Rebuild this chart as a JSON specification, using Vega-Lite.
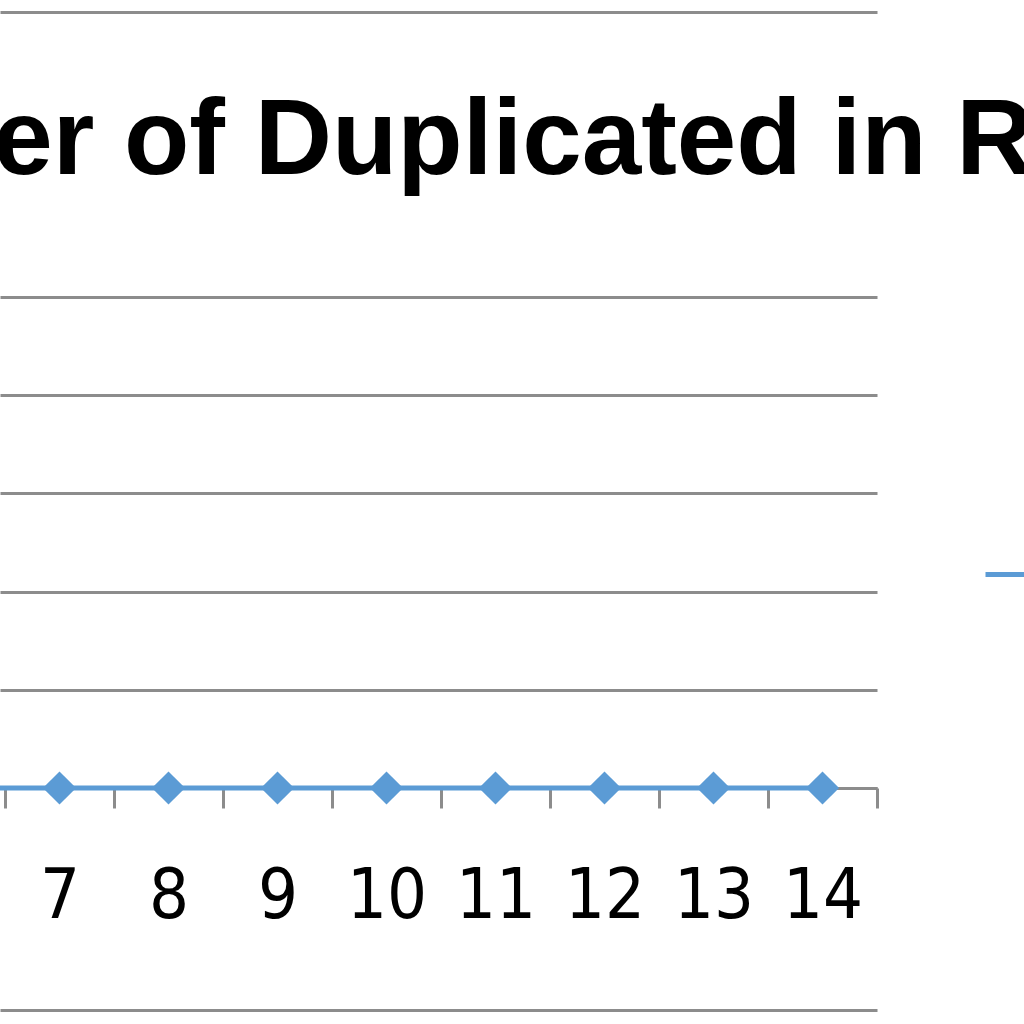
{
  "$schema": "https://vega.github.io/schema/vega-lite/v6.json",
  "width": 877,
  "height": 491,
  "autosize": "none",
  "padding": {"left": 0, "top": 297, "right": 147, "bottom": 236},
  "background": "white",
  "title": {
    "text": "Number of Duplicated in Round",
    "anchor": "start",
    "frame": "group",
    "dx": -310,
    "baseline": "alphabetic",
    "offset": -269,
    "font": "Liberation Sans",
    "fontSize": 107,
    "fontWeight": "bold",
    "color": "#000000"
  },
  "config": {"view": {"stroke": null}},
  "data": {
    "values": [
      {"Run": 1, "Duplicated": 0},
      {"Run": 2, "Duplicated": 0},
      {"Run": 3, "Duplicated": 0},
      {"Run": 4, "Duplicated": 0},
      {"Run": 5, "Duplicated": 0},
      {"Run": 6, "Duplicated": 0},
      {"Run": 7, "Duplicated": 0},
      {"Run": 8, "Duplicated": 0},
      {"Run": 9, "Duplicated": 0},
      {"Run": 10, "Duplicated": 0},
      {"Run": 11, "Duplicated": 0},
      {"Run": 12, "Duplicated": 0},
      {"Run": 13, "Duplicated": 0},
      {"Run": 14, "Duplicated": 0}
    ]
  },
  "resolve": {"axis": {"x": "independent"}},
  "layer": [
    {
      "mark": {"type": "line", "strokeWidth": 5},
      "encoding": {
        "x": {
          "field": "Run",
          "type": "quantitative",
          "scale": {"domain": [6.454, 14.5], "nice": false, "zero": false},
          "axis": {
            "orient": "bottom",
            "title": null,
            "values": [6.5, 7, 7.5, 8, 8.5, 9, 9.5, 10, 10.5, 11, 11.5, 12, 12.5, 13, 13.5, 14, 14.5],
            "labelExpr": "datum.value % 1 == 0 ? format(datum.value, 'd') : ''",
            "labelFont": "'DejaVu Sans Condensed', 'Liberation Sans'",
            "labelFontSize": 70,
            "labelColor": "#000000",
            "labelPadding": 54,
            "labelFlush": false,
            "labelOverlap": false,
            "labelBound": false,
            "tickSize": 20,
            "tickWidth": 3,
            "tickColor": "#8c8c8c",
            "tickOpacity": {"condition": {"test": "datum.value % 1 == 0", "value": 0}, "value": 1},
            "domainColor": "#8c8c8c",
            "domainWidth": 3,
            "grid": false
          }
        },
        "y": {
          "field": "Duplicated",
          "type": "quantitative",
          "scale": {"domain": [0, 1], "nice": false},
          "axis": {
            "title": null,
            "values": [0, 0.2, 0.4, 0.6, 0.8, 1],
            "labels": false,
            "ticks": false,
            "domain": false,
            "grid": true,
            "gridColor": "#8c8c8c",
            "gridWidth": 3
          }
        },
        "stroke": {
          "datum": "Duplicated",
          "scale": {"range": ["#5B9BD5"]},
          "legend": {
            "title": null,
            "orient": "none",
            "legendX": 983,
            "legendY": 235,
            "padding": 0,
            "symbolType": "stroke",
            "symbolSize": 6400,
            "symbolStrokeWidth": 5,
            "labelFontSize": 20,
            "labelColor": "#000000"
          }
        }
      }
    },
    {
      "mark": {"type": "point", "shape": "diamond", "filled": true, "size": 1100, "color": "#5B9BD5", "opacity": 1},
      "encoding": {
        "x": {"field": "Run", "type": "quantitative", "axis": null},
        "y": {"field": "Duplicated", "type": "quantitative"}
      }
    },
    {
      "mark": {"type": "point", "opacity": 0, "clip": true},
      "encoding": {
        "x": {
          "field": "Run",
          "type": "quantitative",
          "axis": {"orient": "top", "offset": 285, "title": null, "labels": false, "ticks": false, "grid": false, "domainColor": "#8c8c8c", "domainWidth": 3}
        },
        "y": {"field": "Duplicated", "type": "quantitative"}
      }
    },
    {
      "mark": {"type": "point", "opacity": 0, "clip": true},
      "encoding": {
        "x": {
          "field": "Run",
          "type": "quantitative",
          "axis": {"orient": "bottom", "offset": 222, "title": null, "labels": false, "ticks": false, "grid": false, "domainColor": "#8c8c8c", "domainWidth": 3}
        },
        "y": {"field": "Duplicated", "type": "quantitative"}
      }
    }
  ]
}
